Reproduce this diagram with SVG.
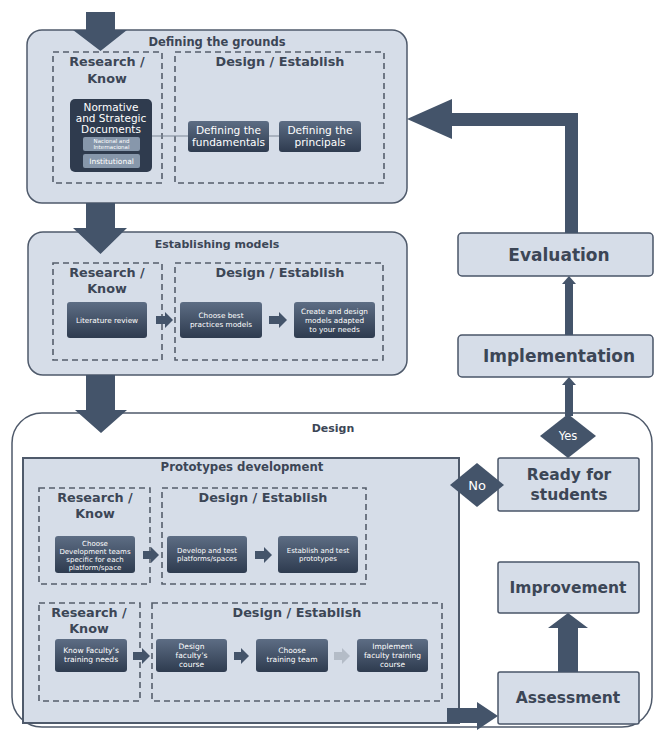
<svg xmlns="http://www.w3.org/2000/svg" width="655" height="734" viewBox="0 0 655 734">
<defs>
<linearGradient id="boxg" x1="0" y1="0" x2="0" y2="1">
<stop offset="0" stop-color="#5d6d84"/>
<stop offset="1" stop-color="#2e3b4f"/>
</linearGradient>
<style>
.panel{fill:#d6dde8;stroke:#4f5a6b;stroke-width:1.5}
.dash{fill:none;stroke:#555e6b;stroke-width:1.6;stroke-dasharray:6 4}
.box{fill:url(#boxg);stroke:none}
.rbox{fill:#d6dde8;stroke:#4a5568;stroke-width:1.5}
.arr{fill:#44546a}
.ttl{font-family:"DejaVu Sans",sans-serif;font-weight:bold;fill:#3c4656;text-anchor:middle}
.hd{font-family:"DejaVu Sans",sans-serif;font-weight:bold;fill:#3c4656;text-anchor:middle;font-size:12.8px}
.bt{font-family:"DejaVu Sans",sans-serif;fill:#ffffff;text-anchor:middle}
.big{font-family:"DejaVu Sans",sans-serif;font-weight:bold;fill:#3c4656;text-anchor:middle}
</style>
</defs>
<rect width="655" height="734" fill="#ffffff"/>

<!-- Design outer panel -->
<g id="design">
<rect x="12" y="413" width="640" height="314" rx="30" fill="#ffffff" stroke="#4f5a6b" stroke-width="1.5"/>
<text class="ttl" x="333" y="432" font-size="11px">Design</text>
</g>

<!-- Panel 1 -->
<g id="defining-grounds">
<rect class="panel" x="27" y="30" width="380" height="173" rx="15"/>
<text class="ttl" x="217" y="46" font-size="11.5px">Defining the grounds</text>
<rect class="dash" x="53" y="52" width="109" height="131"/>
<rect class="dash" x="175" y="52" width="209" height="131"/>
<text class="hd" x="107" y="66">Research /</text>
<text class="hd" x="107" y="83">Know</text>
<text class="hd" x="280" y="66">Design / Establish</text>
</g>
<g id="connectors-top">
<line x1="152" y1="136" x2="279" y2="136" stroke="#7d8796" stroke-width="1"/>
</g>
<g id="normative">
<rect x="70" y="99" width="82" height="73" rx="5" fill="#2f3b4e"/>
<text class="bt" x="111" y="111" font-size="10.5px">Normative</text>
<text class="bt" x="111" y="122" font-size="10.5px">and Strategic</text>
<text class="bt" x="111" y="133" font-size="10.5px">Documents</text>
<rect x="83" y="137" width="57" height="14" rx="2" fill="#8797ab"/>
<text class="bt" x="111.5" y="143" font-size="5.5px" fill="#dfe5ee">Nacional and</text>
<text class="bt" x="111.5" y="149" font-size="5.5px" fill="#dfe5ee">Internacional</text>
<rect x="83" y="154" width="57" height="14" rx="2" fill="#8797ab"/>
<text class="bt" x="111.5" y="164" font-size="7.5px" fill="#e6ebf2">Institutional</text>
</g>
<g id="fundamentals">
<rect class="box" x="188" y="121" width="81" height="31" rx="3"/>
<text class="bt" x="228.5" y="134" font-size="10.6px">Defining the</text>
<text class="bt" x="228.5" y="146" font-size="10.6px">fundamentals</text>
</g>
<g id="principals">
<rect class="box" x="279" y="121" width="82" height="31" rx="3"/>
<text class="bt" x="320" y="134" font-size="10.6px">Defining the</text>
<text class="bt" x="320" y="146" font-size="10.6px">principals</text>
</g>

<!-- Panel 2 -->
<g id="establishing-models">
<rect class="panel" x="28" y="232" width="379" height="143" rx="15"/>
<text class="ttl" x="217" y="248" font-size="11px">Establishing models</text>
<rect class="dash" x="53" y="263" width="109" height="97"/>
<rect class="dash" x="175" y="263" width="208" height="97"/>
<text class="hd" x="107" y="277">Research /</text>
<text class="hd" x="107" y="293">Know</text>
<text class="hd" x="280" y="277">Design / Establish</text>
</g>
<g id="literature">
<rect class="box" x="67" y="302" width="80" height="36" rx="3"/>
<text class="bt" x="107" y="323" font-size="7.3px">Literature review</text>
</g>
<g id="best-practices">
<rect class="box" x="180" y="302" width="82" height="36" rx="3"/>
<text class="bt" x="221" y="318" font-size="7.3px">Choose best</text>
<text class="bt" x="221" y="327" font-size="7.3px">practices models</text>
</g>
<g id="create-models">
<rect class="box" x="294" y="302" width="81" height="36" rx="3"/>
<text class="bt" x="334.5" y="314" font-size="7.3px">Create and design</text>
<text class="bt" x="334.5" y="323" font-size="7.3px">models adapted</text>
<text class="bt" x="334.5" y="332" font-size="7.3px">to your needs</text>
</g>

<!-- Prototypes development -->
<g id="prototypes">
<rect x="23" y="458" width="436" height="265" fill="#d6dde8" stroke="#4f5a6b" stroke-width="2"/>
<text class="ttl" x="242" y="471" font-size="11.7px">Prototypes development</text>
<rect class="dash" x="39" y="488" width="111" height="96"/>
<rect class="dash" x="162" y="488" width="204" height="96"/>
<text class="hd" x="95" y="502">Research /</text>
<text class="hd" x="95" y="518">Know</text>
<text class="hd" x="263" y="502">Design / Establish</text>
<rect class="dash" x="39" y="603" width="101" height="98"/>
<rect class="dash" x="152" y="603" width="290" height="98"/>
<text class="hd" x="89" y="617">Research /</text>
<text class="hd" x="89" y="633">Know</text>
<text class="hd" x="297" y="617">Design / Establish</text>
</g>
<g id="dev-teams">
<rect class="box" x="55" y="536" width="80" height="37" rx="3"/>
<text class="bt" x="95" y="546" font-size="7px">Choose</text>
<text class="bt" x="95" y="554" font-size="7px">Development teams</text>
<text class="bt" x="95" y="562" font-size="7px">specific for each</text>
<text class="bt" x="95" y="570" font-size="7px">platform/space</text>
</g>
<g id="develop-test">
<rect class="box" x="167" y="536" width="80" height="37" rx="3"/>
<text class="bt" x="207" y="553" font-size="7px">Develop and test</text>
<text class="bt" x="207" y="561" font-size="7px">platforms/spaces</text>
</g>
<g id="establish-test">
<rect class="box" x="278" y="536" width="80" height="37" rx="3"/>
<text class="bt" x="318" y="553" font-size="7px">Establish and test</text>
<text class="bt" x="318" y="561" font-size="7px">prototypes</text>
</g>
<g id="faculty-needs">
<rect class="box" x="55" y="639" width="72" height="33" rx="3"/>
<text class="bt" x="91" y="653" font-size="7.5px">Know Faculty’s</text>
<text class="bt" x="91" y="662" font-size="7.5px">training needs</text>
</g>
<g id="design-course">
<rect class="box" x="156" y="639" width="71" height="33" rx="3"/>
<text class="bt" x="191.5" y="649" font-size="7.5px">Design</text>
<text class="bt" x="191.5" y="658" font-size="7.5px">faculty’s</text>
<text class="bt" x="191.5" y="667" font-size="7.5px">course</text>
</g>
<g id="training-team">
<rect class="box" x="256" y="639" width="72" height="33" rx="3"/>
<text class="bt" x="292" y="653" font-size="7.5px">Choose</text>
<text class="bt" x="292" y="662" font-size="7.5px">training team</text>
</g>
<g id="implement-course">
<rect class="box" x="357" y="639" width="71" height="33" rx="3"/>
<text class="bt" x="392.5" y="649" font-size="7.5px">Implement</text>
<text class="bt" x="392.5" y="658" font-size="7.5px">faculty training</text>
<text class="bt" x="392.5" y="667" font-size="7.5px">course</text>
</g>

<!-- Right column -->
<g id="evaluation">
<rect class="rbox" x="458" y="233" width="195" height="43" rx="4"/>
<text class="big" x="559" y="261" font-size="17px">Evaluation</text>
</g>
<g id="implementation">
<rect class="rbox" x="458" y="335" width="195" height="42" rx="4"/>
<text class="big" x="559" y="362" font-size="17px">Implementation</text>
</g>
<g id="ready">
<rect class="rbox" x="498" y="458" width="141" height="53" rx="2"/>
<text class="big" x="569" y="480" font-size="15.5px">Ready for</text>
<text class="big" x="569" y="500" font-size="15.5px">students</text>
</g>
<g id="improvement">
<rect class="rbox" x="498" y="562" width="141" height="51" rx="2"/>
<text class="big" x="568" y="593" font-size="15.5px">Improvement</text>
</g>
<g id="assessment">
<rect class="rbox" x="498" y="672" width="141" height="52" rx="2"/>
<text class="big" x="568" y="703" font-size="15.5px">Assessment</text>
</g>

<!-- Connectors -->
<g id="connectors">
<path class="arr" d="M86 12H115V30H127L100.5 51L73 30H86Z"/>
<path class="arr" d="M86 203H115V228H127L100.5 254L73 228H86Z"/>
<path class="arr" d="M86 375H115V410H127L101 433L75 410H86Z"/>
<path class="arr" d="M578 233V113H452V99L407 119L452 139V126H565V233Z"/>
<path class="arr" d="M565 335V284H562L569 276L576 284H573V335Z"/>
<path class="arr" d="M565 416V385H562L569 377L576 385H573V416Z"/>
<path class="arr" d="M447 708H477V702L498 716L477 730V723H447Z"/>
<path class="arr" d="M558 672V628H548L568 613L588 628H578V672Z"/>
<path class="arr" d="M156 316H165V312L173 320L165 328V324H156Z"/>
<path class="arr" d="M269 316H279V312L287 320L279 328V324H269Z"/>
<path class="arr" d="M143 551H151V547L159 555L151 563V559H143Z"/>
<path class="arr" d="M255 551H264V547L272 555L264 563V559H255Z"/>
<path class="arr" d="M133 652H142V648L150 656L142 664V660H133Z"/>
<path class="arr" d="M234 652H241V648L249 656L241 664V660H234Z"/>
<path d="M334 652H342V648L350 656L342 664V660H334Z" fill="#b4bcc7"/>
</g>

<g id="yes">
<path class="arr" d="M568 414L596 436L568 458L540 436Z"/>
<text class="bt" x="568" y="440" font-size="11.5px">Yes</text>
</g>
<g id="no">
<path class="arr" d="M477 463L504 485L477 507L450 485Z"/>
<text class="bt" x="477" y="490" font-size="13px">No</text>
</g>
</svg>
